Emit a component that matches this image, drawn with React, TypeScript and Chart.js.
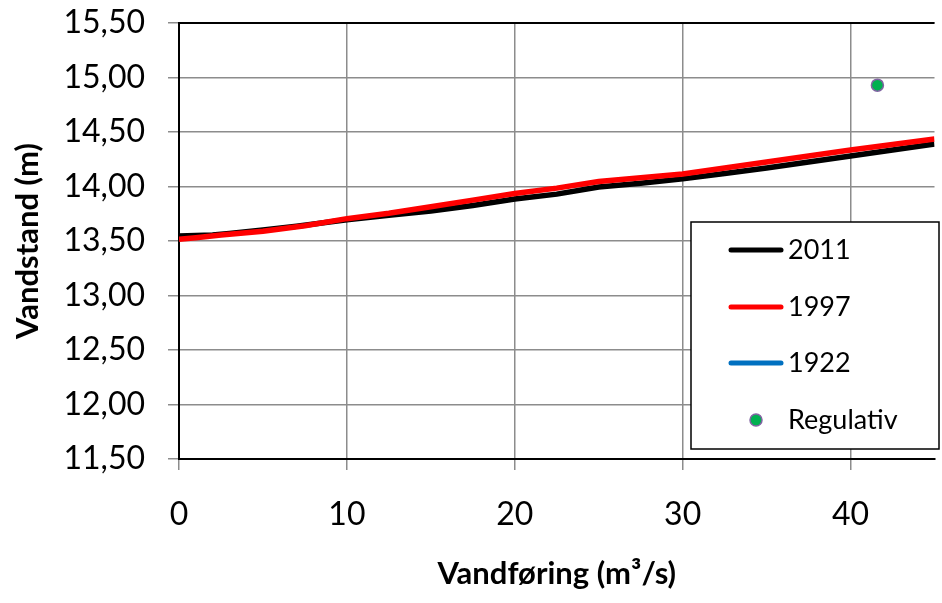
import { useEffect, useRef } from "react";
import { Chart, registerables } from "chart.js";

Chart.register(...registerables);

// ---- Data ----
const seriesLabels = ["2011", "1997", "1922", "Regulativ"];
const xTickValues = [0, 10, 20, 30, 40];

const flow2011 = [0, 1, 2, 3, 5, 7, 10, 12.5, 15, 17.5, 20, 22.5, 25, 27.5, 30, 32.5, 35, 37.5, 40, 42.5, 45];
const stage2011 = [13.545, 13.55, 13.555, 13.57, 13.6, 13.635, 13.695, 13.735, 13.775, 13.825, 13.885, 13.93, 13.995, 14.03, 14.07, 14.12, 14.17, 14.225, 14.28, 14.335, 14.39];

const flow1997 = [0, 1, 2.5, 5, 7.5, 10, 12.5, 15, 17.5, 20, 22.5, 25, 27.5, 30, 32.5, 35, 37.5, 40, 42.5, 45];
const stage1997 = [13.515, 13.53, 13.555, 13.59, 13.64, 13.705, 13.755, 13.815, 13.875, 13.935, 13.985, 14.045, 14.08, 14.115, 14.17, 14.225, 14.28, 14.335, 14.385, 14.435];

const flow1922: number[] = [];
const stage1922: number[] = [];

const regulativFlow = [41.6];
const regulativStage = [14.93];

const toPoints = (xs: number[], ys: number[]) => xs.map((x, i) => ({ x, y: ys[i] }));

const FONT = "Lato, 'Open Sans', sans-serif";

const topBorder = {
  id: "topBorder",
  beforeDatasetsDraw(chart: any) {
    const { ctx, chartArea } = chart;
    ctx.save();
    ctx.strokeStyle = "#000";
    ctx.lineWidth = 2;
    ctx.beginPath();
    ctx.moveTo(chartArea.left, chartArea.top);
    ctx.lineTo(chartArea.right, chartArea.top);
    ctx.stroke();
    ctx.restore();
  },
};

const boxLegend = {
  id: "boxLegend",
  afterDraw(chart: any) {
    const { ctx } = chart;
    const left = 691, top = 222, w = 248, h = 227;
    const rows = [250, 307, 363, 420];
    ctx.save();
    ctx.fillStyle = "#fff";
    ctx.fillRect(left, top, w, h);
    ctx.strokeStyle = "#000";
    ctx.lineWidth = 1.5;
    ctx.strokeRect(left, top, w, h);
    chart.data.datasets.forEach((ds: any, i: number) => {
      const y = rows[i];
      if (ds.showLine === false) {
        ctx.beginPath();
        ctx.arc(756, y, 6, 0, Math.PI * 2);
        ctx.fillStyle = ds.pointBackgroundColor;
        ctx.fill();
        ctx.lineWidth = 1.5;
        ctx.strokeStyle = ds.pointBorderColor;
        ctx.stroke();
      } else {
        ctx.beginPath();
        ctx.lineCap = "round";
        ctx.lineWidth = 5;
        ctx.strokeStyle = ds.borderColor;
        ctx.moveTo(731, y);
        ctx.lineTo(781, y);
        ctx.stroke();
      }
      ctx.fillStyle = "#000";
      ctx.font = `27px ${FONT}`;
      ctx.textAlign = "left";
      ctx.textBaseline = "middle";
      ctx.fillText(ds.label, 788, y);
    });
    ctx.restore();
  },
};

export default function App() {
  const ref = useRef<HTMLCanvasElement | null>(null);

  useEffect(() => {
    document.body.style.margin = "0";
    if (!ref.current) return;
    const chart = new Chart(ref.current, {
      type: "scatter",
      data: {
        datasets: [
          {
            label: seriesLabels[0],
            data: toPoints(flow2011, stage2011),
            showLine: true,
            borderColor: "#000000",
            backgroundColor: "#000000",
            borderWidth: 5.5,
            pointRadius: 0,
            tension: 0,
            order: 3,
          },
          {
            label: seriesLabels[1],
            data: toPoints(flow1997, stage1997),
            showLine: true,
            borderColor: "#ff0000",
            backgroundColor: "#ff0000",
            borderWidth: 5.5,
            pointRadius: 0,
            tension: 0,
            order: 1,
          },
          {
            label: seriesLabels[2],
            data: toPoints(flow1922, stage1922),
            showLine: true,
            borderColor: "#0070c0",
            backgroundColor: "#0070c0",
            borderWidth: 5.5,
            pointRadius: 0,
            tension: 0,
            order: 2,
          },
          {
            label: seriesLabels[3],
            data: toPoints(regulativFlow, regulativStage),
            showLine: false,
            pointRadius: 6,
            pointBackgroundColor: "#00b050",
            pointBorderColor: "#8064a2",
            pointBorderWidth: 1.5,
            order: 0,
          } as any,
        ],
      },
      options: {
        responsive: false,
        animation: false,
        devicePixelRatio: 1,
        layout: { padding: { top: 23, right: 0, left: 0, bottom: 0 } },
        plugins: {
          legend: { display: false },
          tooltip: { enabled: false },
        },
        scales: {
          x: {
            type: "linear",
            min: 0,
            max: 45,
            afterBuildTicks: (scale: any) => {
              scale.ticks = xTickValues.map((v) => ({ value: v }));
            },
            afterFit: (scale: any) => {
              scale.height = 144;
              scale.paddingLeft = 0;
              scale.paddingRight = 0;
            },
            grid: {
              color: "#8c8c8c",
              lineWidth: 1.5,
              drawTicks: true,
              tickLength: 11,
              tickColor: "#8c8c8c",
            },
            border: { color: "#000", width: 2 },
            ticks: {
              color: "#000",
              font: { family: FONT, size: 32 },
              padding: 25,
              maxRotation: 0,
              callback: (v: any) => String(v),
            },
            title: {
              display: true,
              text: "Vandføring (m³/s)",
              color: "#000",
              font: { family: FONT, size: 31, weight: "bold" },
              padding: { top: 0, bottom: 10 },
            },
          },
          y: {
            type: "linear",
            min: 11.5,
            max: 15.5,
            afterFit: (scale: any) => {
              scale.width = 179;
              scale.paddingTop = 0;
              scale.paddingBottom = 0;
            },
            grid: {
              color: "#8c8c8c",
              lineWidth: 1.5,
              drawTicks: true,
              tickLength: 11,
              tickColor: "#8c8c8c",
            },
            border: { color: "#000", width: 2 },
            ticks: {
              stepSize: 0.5,
              color: "#000",
              font: { family: FONT, size: 32 },
              padding: 23,
              callback: (v: any) => Number(v).toFixed(2).replace(".", ","),
            },
            title: {
              display: true,
              text: "Vandstand (m)",
              color: "#000",
              font: { family: FONT, size: 31, weight: "bold" },
              padding: { top: 9, bottom: 0 },
            },
          },
        },
      },
      plugins: [topBorder, boxLegend],
    });
    return () => chart.destroy();
  }, []);

  return (
    <canvas
      ref={ref}
      width={942}
      height={603}
      style={{ display: "block", width: 942, height: 603 }}
    />
  );
}
